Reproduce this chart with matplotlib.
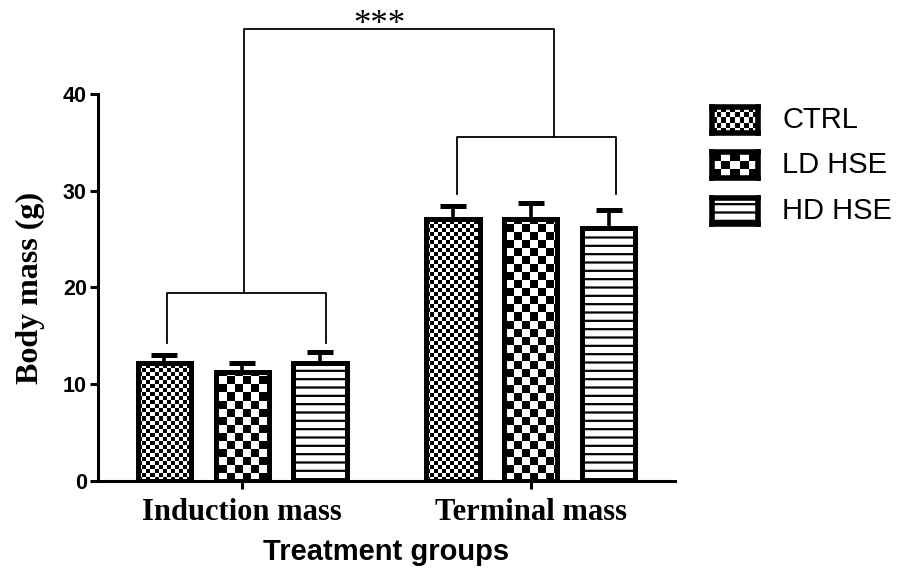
import matplotlib
matplotlib.use('Agg')
import matplotlib.pyplot as plt
import numpy as np

groups = ['Induction mass', 'Terminal mass']
series = ['CTRL', 'LD HSE', 'HD HSE']
ctrl = [12.2, 27.1]
ld_hse = [11.3, 27.1]
hd_hse = [12.2, 26.1]
ctrl_err = [0.85, 1.35]
ld_err = [0.9, 1.6]
hd_err = [1.1, 1.95]

SERIF = 'Liberation Serif'
SANS = 'Liberation Sans'


def checker(nrows, ncols):
    r, c = np.indices((nrows, ncols))
    return (r + c) % 2


fig = plt.figure(figsize=(8.98, 5.71), dpi=100)
ax = fig.add_axes([98 / 898, 1 - 481 / 571, 577 / 898, 387 / 571])

x = np.arange(len(groups))
offs = [-0.27, 0.0, 0.27]
width = 0.185
lw_bar = 3.6

vals = [ctrl, ld_hse, hd_hse]
errs = [ctrl_err, ld_err, hd_err]
hatches = [None, None, '--']
cells = [4, 8, None]

plt.rcParams['hatch.linewidth'] = 1.6
W, H = 577, 387
for i in range(3):
    face = 'none' if cells[i] else 'white'
    bars = ax.bar(x + offs[i], vals[i], width, facecolor=face, edgecolor='black',
                  linewidth=lw_bar, hatch=hatches[i], zorder=3)
    ax.errorbar(x + offs[i], vals[i], yerr=[[0, 0], errs[i]], fmt='none',
                ecolor='black', elinewidth=2.6, capsize=9.5, capthick=3.6, zorder=2)
    if cells[i]:
        c = cells[i]
        nr, nc = int(np.ceil(H / c)), int(np.ceil(W / c))
        for b in bars:
            im = ax.imshow(checker(nr, nc), cmap='gray', interpolation='nearest',
                           extent=[0, nc * c / W, 0, nr * c / H], origin='lower',
                           transform=ax.transAxes, zorder=2.8, aspect='auto')
            im.set_clip_path(b)

ax.set_xlim(-0.5, 1.5)
ax.set_ylim(0, 40)
ax.set_aspect('auto')

for s in ['top', 'right']:
    ax.spines[s].set_visible(False)
for s in ['left', 'bottom']:
    ax.spines[s].set_linewidth(2.2)
    ax.spines[s].set_zorder(4)

ax.set_yticks([0, 10, 20, 30, 40])
ax.set_xticks(x)
ax.set_xticklabels(groups, fontfamily=SERIF, fontweight='bold', fontsize=22)
for t in ax.get_yticklabels():
    t.set_fontfamily(SANS)
    t.set_fontweight('bold')
    t.set_fontsize(15.5)
ax.tick_params(axis='both', length=6, width=2.2, direction='out')
ax.tick_params(axis='y', pad=2)
ax.tick_params(axis='x', pad=6)

ax.set_ylabel('Body mass (g)', fontfamily=SERIF, fontweight='bold', fontsize=23, labelpad=13)
ax.set_xlabel('Treatment groups', fontfamily=SANS, fontweight='bold', fontsize=21, labelpad=8)

# significance brackets
bk = dict(color='black', linewidth=1.3, clip_on=False, zorder=4)
ax.plot([-0.262, -0.262, 0.29, 0.29], [14.3, 19.4, 19.4, 14.3], **bk)
ax.plot([0.745, 0.745, 1.297, 1.297], [29.7, 35.6, 35.6, 29.7], **bk)
ax.plot([0.005, 0.005, 1.081, 1.081], [19.4, 46.7, 46.7, 35.6], **bk)
ax.text(0.474, 46.2, '***', ha='center', va='baseline', fontfamily=SERIF,
        fontsize=25, clip_on=False)

# legend drawn by hand so the checker swatches match the bars
leg_y = [120, 165, 211]
for i, name in enumerate(series):
    cy = leg_y[i]
    lax = fig.add_axes([712 / 898, 1 - (cy + 13) / 571, 46 / 898, 26 / 571])
    if cells[i]:
        c = cells[i]
        lax.imshow(checker(int(np.ceil(18 / c)), int(np.ceil(38 / c))), cmap='gray',
                   interpolation='nearest', aspect='auto')
    else:
        lax.add_patch(plt.Rectangle((0, 0), 1, 1, facecolor='white',
                                    edgecolor='black', hatch='--', linewidth=0,
                                    transform=lax.transAxes))
    lax.set_xticks([])
    lax.set_yticks([])
    for s in lax.spines.values():
        s.set_linewidth(4)
    fig.text(782 / 898, 1 - cy / 571, name, fontfamily=SANS, fontsize=21,
             va='center', ha='left')

fig.savefig('out.png', dpi=100)
